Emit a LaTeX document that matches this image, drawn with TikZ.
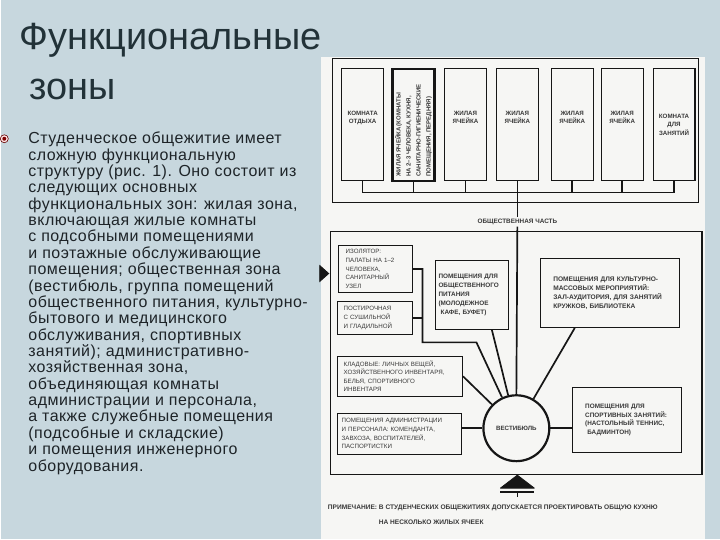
\documentclass[tikz,border=0pt]{standalone}
\usepackage{fontspec}
\setmainfont{Liberation Sans}
\usepackage{graphicx}
\usetikzlibrary{positioning}
\definecolor{slide}{RGB}{199,215,222}
\definecolor{paper}{RGB}{246,246,244}
\definecolor{ink}{RGB}{22,22,22}
\definecolor{headink}{RGB}{34,50,56}
\definecolor{bodyink}{RGB}{30,36,40}

\begin{document}
\begin{tikzpicture}[x=1pt, y=-1pt,
    room/.style={draw=ink, line width=1.2pt, inner sep=0pt, minimum width=42pt,
      minimum height=112pt, align=center, text=ink!85,
      font=\bfseries\fontsize{6.2}{8.8}\selectfont},
    roomtext/.style={text depth=15pt},
    zone/.style={draw=ink, line width=1.1pt, align=left, inner ysep=0pt, text=ink!85,
      font=\fontsize{6.2}{8.6}\selectfont},
    link/.style={draw=ink, line width=1.7pt},
  ]
    \fill[slide] (0,0) rectangle (720,540);
    \fill[paper] (320,57) rectangle (705,540);

    % Slide text
    \node[anchor=base west, inner sep=0pt, text=headink, font=\fontsize{38}{38}\selectfont] (title) at (18,50) {Функциональные};
    \node[anchor=base west, inner sep=0pt, text=headink, font=\fontsize{38}{38}\selectfont] (title2) at (28,100) {зоны};
    \filldraw[fill=red!10, draw=red!40!black, line width=0.6pt] (3,139) circle (4);
    \fill[red!50!black] (3,139) circle (2);
    \node[anchor=north west, inner sep=0pt, align=left, text=bodyink,
      font=\fontsize{16}{16.4}\selectfont\addfontfeatures{LetterSpace=3}] (body) at (27,132) {Студенческое общежитие имеет\\
      сложную функциональную\\
      структуру (рис. 1). Оно состоит из\\
      следующих основных\\
      функциональных зон: жилая зона,\\
      включающая жилые комнаты\\
      с подсобными помещениями\\
      и поэтажные обслуживающие\\
      помещения; общественная зона\\
      (вестибюль, группа помещений\\
      общественного питания, культурно-\\
      бытового и медицинского\\
      обслуживания, спортивных\\
      занятий); административно-\\
      хозяйственная зона,\\
      объединяющая комнаты\\
      администрации и персонала,\\
      а также служебные помещения\\
      (подсобные и складские)\\
      и помещения инженерного\\
      оборудования.};

    % Residential part
    \node[draw=ink, line width=0.8pt, minimum width=366pt, minimum height=144pt, inner sep=0pt] (home) at (515,131) {};
    \node[room, roomtext] (r1) at (362,125) {КОМНАТА\\ОТДЫХА};
    \node[room, line width=2.3pt] (r2) at (413,125) {\rotatebox{90}{\parbox{104pt}{\fontsize{6}{10}\selectfont\raggedright
      ЖИЛАЯ ЯЧЕЙКА (КОМНАТЫ\\НА 2--3 ЧЕЛОВЕКА, КУХНЯ,\\САНИТАРНО-ГИГИЕНИЧЕСКИЕ\\ПОМЕЩЕНИЯ, ПЕРЕДНЯЯ)}}};
    \node[room, roomtext] (r3) at (465,125) {ЖИЛАЯ\\ЯЧЕЙКА};
    \node[room, roomtext] (r4) at (517,125) {ЖИЛАЯ\\ЯЧЕЙКА};
    \node[room, roomtext] (r5) at (572,125) {ЖИЛАЯ\\ЯЧЕЙКА};
    \node[room, roomtext] (r6) at (622,125) {ЖИЛАЯ\\ЯЧЕЙКА};
    \node[room] (r7) at (674,125) {КОМНАТА\\ДЛЯ\\ЗАНЯТИЙ};
    \coordinate (busL) at (362,193);
    \coordinate (busR) at (674,193);

    % Public part
    \node[draw=ink, line width=1.1pt, minimum width=372pt, minimum height=243pt, inner sep=0pt] (social) at (516,353.5) {};
    \node[fill=paper, inner sep=2pt, text=ink!85, font=\bfseries\fontsize{6.4}{7}\selectfont] (pub) at (517,222) {ОБЩЕСТВЕННАЯ ЧАСТЬ};
    \node[circle, draw=ink, line width=2.2pt, minimum size=66pt, inner sep=0pt, text=ink!85,
      font=\bfseries\fontsize{6.2}{7}\selectfont] (hall) at (516,429) {ВЕСТИБЮЛЬ};
    \node[zone, inner xsep=7pt, text width=60pt, minimum width=74pt, minimum height=47pt] (iso) at (375,269.5)
      {ИЗОЛЯТОР:\\ПАЛАТЫ НА 1--2\\ЧЕЛОВЕКА,\\САНИТАРНЫЙ\\УЗЕЛ};
    \node[zone, inner xsep=6pt, text width=63pt, minimum width=75pt, minimum height=33pt] (laundry) at (374.5,318.5)
      {ПОСТИРОЧНАЯ\\С СУШИЛЬНОЙ\\И ГЛАДИЛЬНОЙ};
    \node[zone, font=\bfseries\fontsize{6.4}{8.9}\selectfont, inner xsep=3pt, text width=67pt, minimum width=73pt, minimum height=69pt] (cafe) at (471.5,295.5)
      {ПОМЕЩЕНИЯ ДЛЯ\\ОБЩЕСТВЕННОГО\\ПИТАНИЯ\\(МОЛОДЕЖНОЕ\\\ КАФЕ, БУФЕТ)};
    \node[zone, font=\bfseries\fontsize{6.6}{9}\selectfont, inner xsep=13pt, text width=113pt, minimum width=139pt, minimum height=69pt] (culture) at (609.5,293.5)
      {ПОМЕЩЕНИЯ ДЛЯ КУЛЬТУРНО-\\МАССОВЫХ МЕРОПРИЯТИЙ:\\ЗАЛ-АУДИТОРИЯ, ДЛЯ ЗАНЯТИЙ\\КРУЖКОВ, БИБЛИОТЕКА};
    \node[zone, inner xsep=6pt, text width=113pt, minimum width=125pt, minimum height=40pt] (store) at (399.5,377)
      {КЛАДОВЫЕ: ЛИЧНЫХ ВЕЩЕЙ,\\ХОЗЯЙСТВЕННОГО ИНВЕНТАРЯ,\\БЕЛЬЯ, СПОРТИВНОГО\\ИНВЕНТАРЯ};
    \node[zone, inner xsep=4pt, text width=116pt, minimum width=124pt, minimum height=41pt] (admin) at (399,434.5)
      {ПОМЕЩЕНИЯ АДМИНИСТРАЦИИ\\И ПЕРСОНАЛА: КОМЕНДАНТА,\\ЗАВХОЗА, ВОСПИТАТЕЛЕЙ,\\ПАСПОРТИСТКИ};
    \node[zone, font=\bfseries\fontsize{6.4}{8.6}\selectfont, inner xsep=13pt, text width=83pt, minimum width=109pt, minimum height=65pt] (sport) at (626.5,420.5)
      {ПОМЕЩЕНИЯ ДЛЯ\\СПОРТИВНЫХ ЗАНЯТИЙ:\\(НАСТОЛЬНЫЙ ТЕННИС,\\\ БАДМИНТОН)};
    \coordinate (knee) at (422,343);
    \coordinate (bend) at (476,343);

    % Edges
    \foreach \i in {1,...,7}
      \draw[link] (r\i.south) -- (r\i.south |- busL);
    \draw[link] (busL) -- (busR);
    \draw[link] (r4.south) -- (pub.north);
    \draw[link] (pub.south) -- (hall.north);
    \draw[link] (iso.east) -| (knee) -- (bend) -- (hall);
    \draw[link] (laundry.east) -- (laundry.east -| knee);
    \draw[link] ([xshift=20pt]cafe.south) -- (hall);
    \draw[link] ([xshift=-35pt]culture.south) -- (hall);
    \draw[link] (store.east) -- (hall);
    \draw[link] (hall.west) -- (hall.west -| admin.east);
    \draw[link] (hall.east) -- (hall.east -| sport.west);

    % Entrances
    \filldraw[ink, line width=0.8pt] (319,266) -- (328,274) -- (319,282) -- cycle;
    \filldraw[ink, line width=0.8pt, line join=round] (517,476) -- (534,489) -- (500,489) -- cycle;
    \draw[ink, line width=1.6pt] (500,493) -- (534,493) (517,493) -- (517,498);

    % Note
    \node[anchor=west, inner sep=0pt, text=ink!85, font=\bfseries\fontsize{6.6}{7}\selectfont] (note) at (327,509)
      {ПРИМЕЧАНИЕ: В СТУДЕНЧЕСКИХ ОБЩЕЖИТИЯХ ДОПУСКАЕТСЯ ПРОЕКТИРОВАТЬ ОБЩУЮ КУХНЮ};
    \node[anchor=west, inner sep=0pt, text=ink!85, font=\bfseries\fontsize{6.6}{7}\selectfont] (note2) at (378,523)
      {НА НЕСКОЛЬКО ЖИЛЫХ ЯЧЕЕК};
  \end{tikzpicture}
\end{document}
